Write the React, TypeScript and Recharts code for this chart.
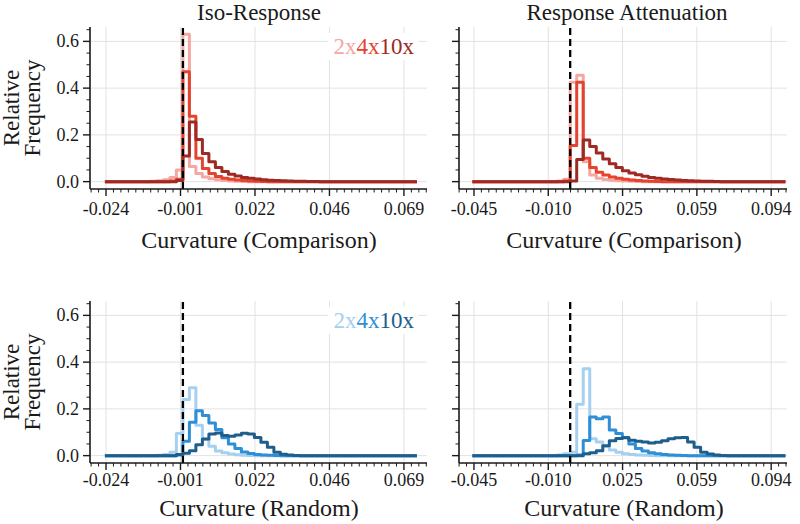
import { LineChart, Line, XAxis, YAxis, CartesianGrid, ReferenceLine } from "recharts";

const SERIF = "'Liberation Serif', 'Times New Roman', serif";

// scale factors shown in the legends
const SCALE_LABELS = ["2x", "4x", "10x"];

// histogram bins (48 bins per panel)
const ISO_BIN_START = -0.02435;
const ISO_BIN_WIDTH = 0.002029;
const ATT_BIN_START = -0.04575;
const ATT_BIN_WIDTH = 0.00305;

// Iso-Response, comparison curvature
const ISO_COMPARISON_2X = [
  0, 0, 0, 0, 0, 0, 0, 0.002, 0.004, 0.008, 0.018, 0.05,
  0.63, 0.065, 0.035, 0.02, 0.012, 0.008, 0.005, 0.003, 0.002, 0.001, 0, 0,
  0, 0, 0, 0, 0, 0, 0, 0, 0, 0, 0, 0,
  0, 0, 0, 0, 0, 0, 0, 0, 0, 0, 0, 0,
];
const ISO_COMPARISON_4X = [
  0, 0, 0, 0, 0, 0, 0, 0, 0, 0, 0.003, 0.01,
  0.47, 0.28, 0.1, 0.056, 0.035, 0.022, 0.015, 0.01, 0.007, 0.005, 0.003, 0.002,
  0.001, 0, 0, 0, 0, 0, 0, 0, 0, 0, 0, 0,
  0, 0, 0, 0, 0, 0, 0, 0, 0, 0, 0, 0,
];
const ISO_COMPARISON_10X = [
  0, 0, 0, 0, 0, 0, 0, 0, 0, 0, 0, 0.005,
  0.11, 0.255, 0.18, 0.12, 0.085, 0.06, 0.043, 0.032, 0.024, 0.018, 0.014, 0.011,
  0.008, 0.006, 0.005, 0.004, 0.003, 0.002, 0.002, 0.001, 0.001, 0, 0, 0,
  0, 0, 0, 0, 0, 0, 0, 0, 0, 0, 0, 0,
];

// Iso-Response, random curvature
const ISO_RANDOM_2X = [
  0, 0, 0, 0, 0, 0, 0, 0, 0.002, 0.005, 0.015, 0.095,
  0.24, 0.29, 0.13, 0.07, 0.04, 0.02, 0.012, 0.007, 0.004, 0.002, 0.001, 0,
  0, 0, 0, 0, 0, 0, 0, 0, 0, 0, 0, 0,
  0, 0, 0, 0, 0, 0, 0, 0, 0, 0, 0, 0,
];
const ISO_RANDOM_4X = [
  0, 0, 0, 0, 0, 0, 0, 0, 0, 0, 0, 0.003,
  0.062, 0.143, 0.192, 0.172, 0.14, 0.112, 0.076, 0.05, 0.03, 0.016, 0.009, 0.005,
  0.003, 0.002, 0.001, 0, 0, 0, 0, 0, 0, 0, 0, 0,
  0, 0, 0, 0, 0, 0, 0, 0, 0, 0, 0, 0,
];
const ISO_RANDOM_10X = [
  0, 0, 0, 0, 0, 0, 0, 0, 0, 0, 0, 0.005,
  0.01, 0.021, 0.047, 0.071, 0.093, 0.097, 0.086, 0.083, 0.088, 0.096, 0.093, 0.078,
  0.057, 0.036, 0.014, 0.006, 0.003, 0.001, 0, 0, 0, 0, 0, 0,
  0, 0, 0, 0, 0, 0, 0, 0, 0, 0, 0, 0,
];

// Response Attenuation, comparison curvature
const ATT_COMPARISON_2X = [
  0, 0, 0, 0, 0, 0, 0, 0, 0, 0, 0, 0,
  0, 0.003, 0.01, 0.425, 0.455, 0.085, 0.028, 0.015, 0.009, 0.006, 0.004, 0.003,
  0.002, 0.001, 0, 0, 0, 0, 0, 0, 0, 0, 0, 0,
  0, 0, 0, 0, 0, 0, 0, 0, 0, 0, 0, 0,
];
const ATT_COMPARISON_4X = [
  0, 0, 0, 0, 0, 0, 0, 0, 0, 0, 0, 0,
  0, 0, 0.003, 0.155, 0.425, 0.1, 0.06, 0.04, 0.028, 0.02, 0.014, 0.01,
  0.007, 0.005, 0.003, 0.002, 0.001, 0, 0, 0, 0, 0, 0, 0,
  0, 0, 0, 0, 0, 0, 0, 0, 0, 0, 0, 0,
];
const ATT_COMPARISON_10X = [
  0, 0, 0, 0, 0, 0, 0, 0, 0, 0, 0, 0,
  0, 0, 0, 0.003, 0.095, 0.178, 0.15, 0.122, 0.097, 0.076, 0.06, 0.047,
  0.037, 0.029, 0.023, 0.018, 0.014, 0.011, 0.009, 0.007, 0.005, 0.004, 0.003, 0.002,
  0.002, 0.001, 0, 0, 0, 0, 0, 0, 0, 0, 0, 0,
];

// Response Attenuation, random curvature
const ATT_RANDOM_2X = [
  0, 0, 0, 0, 0, 0, 0, 0, 0, 0, 0, 0,
  0, 0.003, 0.008, 0.015, 0.22, 0.372, 0.072, 0.058, 0.04, 0.024, 0.014, 0.008,
  0.005, 0.003, 0.002, 0.001, 0, 0, 0, 0, 0, 0, 0, 0,
  0, 0, 0, 0, 0, 0, 0, 0, 0, 0, 0, 0,
];
const ATT_RANDOM_4X = [
  0, 0, 0, 0, 0, 0, 0, 0, 0, 0, 0, 0,
  0, 0, 0, 0, 0.003, 0.065, 0.165, 0.158, 0.165, 0.11, 0.095, 0.078,
  0.05, 0.03, 0.02, 0.012, 0.008, 0.005, 0.003, 0.002, 0.001, 0, 0, 0,
  0, 0, 0, 0, 0, 0, 0, 0, 0, 0, 0, 0,
];
const ATT_RANDOM_10X = [
  0, 0, 0, 0, 0, 0, 0, 0, 0, 0, 0, 0,
  0, 0, 0, 0, 0, 0.008, 0.012, 0.021, 0.042, 0.064, 0.073, 0.077,
  0.066, 0.062, 0.058, 0.054, 0.057, 0.064, 0.072, 0.077, 0.078, 0.058, 0.036, 0.015,
  0.007, 0.003, 0.001, 0, 0, 0, 0, 0, 0, 0, 0, 0,
];

// axes
const ISO_X_TICKS = [-0.024, -0.00075, 0.0225, 0.04575, 0.069];
const ISO_X_LABELS = ["-0.024", "-0.001", "0.022", "0.046", "0.069"];
const ATT_X_TICKS = [-0.045, -0.01025, 0.0245, 0.05925, 0.094];
const ATT_X_LABELS = ["-0.045", "-0.010", "0.025", "0.059", "0.094"];
const Y_TICKS = [0, 0.2, 0.4, 0.6];
const Y_LABELS = ["0.0", "0.2", "0.4", "0.6"];
const Y_MINOR = [0.05, 0.1, 0.15, 0.25, 0.3, 0.35, 0.45, 0.5, 0.55, 0.65];

const ISO_X_DOMAIN: [number, number] = [-0.029, 0.0762];
const ATT_X_DOMAIN: [number, number] = [-0.052, 0.1014];
const Y_DOMAIN: [number, number] = [-0.0315, 0.6615];

const REDS = ["#f5a7a2", "#e6432f", "#9d2a23"];
const BLUES = ["#a5d0ef", "#2f8fd6", "#1e5e8c"];

const INK = "#1a1a1a";
const GRID = "#e2e2e2";

const Y_AXIS_W = 60;
const X_AXIS_H = 40;
const PAD_TOP = 10;
const PAD_RIGHT = 12;

function buildRows(start: number, width: number, a: number[], b: number[], c: number[]) {
  const rows = a.map((_, i) => ({ x: start + i * width, a: a[i], b: b[i], c: c[i] }));
  const n = a.length;
  rows.push({ x: start + n * width, a: a[n - 1], b: b[n - 1], c: c[n - 1] });
  return rows;
}

function minorTicks(majors: number[], sub: number, domain: [number, number]) {
  const step = (majors[1] - majors[0]) / sub;
  const out: number[] = [];
  for (let j = Math.ceil((domain[0] - majors[0]) / step); majors[0] + j * step <= domain[1]; j++) {
    if (j % sub !== 0) out.push(majors[0] + j * step);
  }
  return out;
}

function makeXTick(majors: number[], labels: string[], labelOffset: number) {
  return (props: any) => {
    const { x, y, payload } = props;
    const i = majors.indexOf(payload.value);
    if (i < 0) {
      return <line x1={x} x2={x} y1={y} y2={y + 3.5} stroke={INK} strokeWidth={1} />;
    }
    return (
      <g>
        <line x1={x} x2={x} y1={y} y2={y + 7} stroke={INK} strokeWidth={1.4} />
        <text x={x} y={y + labelOffset} textAnchor="middle" fontSize={18} fontFamily={SERIF} fill={INK}>
          {labels[i]}
        </text>
      </g>
    );
  };
}

function makeYTick(showLabels: boolean) {
  return (props: any) => {
    const { x, y, payload } = props;
    const i = Y_TICKS.indexOf(payload.value);
    if (i < 0) {
      return <line x1={x - 3.5} x2={x} y1={y} y2={y} stroke={INK} strokeWidth={1} />;
    }
    return (
      <g>
        <line x1={x - 7} x2={x} y1={y} y2={y} stroke={INK} strokeWidth={1.4} />
        {showLabels && (
          <text x={x - 11} y={y + 6} textAnchor="end" fontSize={18} fontFamily={SERIF} fill={INK}>
            {Y_LABELS[i]}
          </text>
        )}
      </g>
    );
  };
}

interface PanelProps {
  left: number;
  top: number;
  width: number;
  height: number;
  rows: { x: number; a: number; b: number; c: number }[];
  colors: string[];
  xDomain: [number, number];
  xTicks: number[];
  xLabels: string[];
  showYLabels: boolean;
  labelOffset: number;
}

function Panel({ left, top, width, height, rows, colors, xDomain, xTicks, xLabels, showYLabels, labelOffset }: PanelProps) {
  const allX = [...xTicks, ...minorTicks(xTicks, 10, xDomain)];
  const allY = [...Y_TICKS, ...Y_MINOR];
  return (
    <div style={{ position: "absolute", left: left - Y_AXIS_W, top: top - PAD_TOP }}>
      <LineChart
        width={width + Y_AXIS_W + PAD_RIGHT}
        height={height + PAD_TOP + X_AXIS_H}
        data={rows}
        margin={{ top: PAD_TOP, right: PAD_RIGHT, bottom: 0, left: 0 }}
      >
        <CartesianGrid stroke={GRID} strokeWidth={1} verticalValues={xTicks} horizontalValues={Y_TICKS} />
        <XAxis
          dataKey="x"
          type="number"
          domain={xDomain}
          allowDataOverflow
          ticks={allX}
          interval={0}
          tickLine={false}
          tickSize={0}
          tickMargin={0}
          height={X_AXIS_H}
          axisLine={{ stroke: INK, strokeWidth: 1.6 }}
          tick={makeXTick(xTicks, xLabels, labelOffset)}
        />
        <YAxis
          type="number"
          domain={Y_DOMAIN}
          allowDataOverflow
          ticks={allY}
          interval={0}
          tickLine={false}
          tickSize={0}
          tickMargin={0}
          width={Y_AXIS_W}
          axisLine={{ stroke: INK, strokeWidth: 1.6 }}
          tick={makeYTick(showYLabels)}
        />
        {["a", "b", "c"].map((key, i) => (
          <Line
            key={key}
            type="stepAfter"
            dataKey={key}
            stroke={colors[i]}
            strokeWidth={3}
            strokeLinejoin="round"
            dot={false}
            activeDot={false}
            isAnimationActive={false}
          />
        ))}
        <ReferenceLine x={0} stroke="#000" strokeWidth={2.3} strokeDasharray="7 4" />
      </LineChart>
    </div>
  );
}

function Legend({ x, y, colors }: { x: number; y: number; colors: string[] }) {
  return (
    <g>
      <rect x={x - 86} y={y - 21} width={90} height={27} fill="#fff" />
      <text x={x} y={y} textAnchor="end" fontSize={23} fontFamily={SERIF}>
        {SCALE_LABELS.map((s, i) => (
          <tspan key={s} fill={colors[i]}>
            {s}
          </tspan>
        ))}
      </text>
    </g>
  );
}

function YLabel({ cy }: { cy: number }) {
  return (
    <g fontSize={23} fontFamily={SERIF} fill={INK} textAnchor="middle">
      <text transform={`translate(19,${cy}) rotate(-90)`}>Relative</text>
      <text transform={`translate(40,${cy}) rotate(-90)`}>Frequency</text>
    </g>
  );
}

export default function App() {
  const isoComparison = buildRows(ISO_BIN_START, ISO_BIN_WIDTH, ISO_COMPARISON_2X, ISO_COMPARISON_4X, ISO_COMPARISON_10X);
  const attComparison = buildRows(ATT_BIN_START, ATT_BIN_WIDTH, ATT_COMPARISON_2X, ATT_COMPARISON_4X, ATT_COMPARISON_10X);
  const isoRandom = buildRows(ISO_BIN_START, ISO_BIN_WIDTH, ISO_RANDOM_2X, ISO_RANDOM_4X, ISO_RANDOM_10X);
  const attRandom = buildRows(ATT_BIN_START, ATT_BIN_WIDTH, ATT_RANDOM_2X, ATT_RANDOM_4X, ATT_RANDOM_10X);

  return (
    <div
      style={{
        position: "absolute",
        left: 0,
        top: 0,
        width: 800,
        height: 524,
        background: "#fff",
        overflow: "hidden",
        fontFamily: SERIF,
      }}
    >
      <Panel left={90} top={27} width={337} height={162} rows={isoComparison} colors={REDS}
        xDomain={ISO_X_DOMAIN} xTicks={ISO_X_TICKS} xLabels={ISO_X_LABELS} showYLabels labelOffset={26} />
      <Panel left={459} top={27} width={328} height={162} rows={attComparison} colors={REDS}
        xDomain={ATT_X_DOMAIN} xTicks={ATT_X_TICKS} xLabels={ATT_X_LABELS} showYLabels={false} labelOffset={26} />
      <Panel left={90} top={301} width={337} height={162} rows={isoRandom} colors={BLUES}
        xDomain={ISO_X_DOMAIN} xTicks={ISO_X_TICKS} xLabels={ISO_X_LABELS} showYLabels labelOffset={23} />
      <Panel left={459} top={301} width={328} height={162} rows={attRandom} colors={BLUES}
        xDomain={ATT_X_DOMAIN} xTicks={ATT_X_TICKS} xLabels={ATT_X_LABELS} showYLabels={false} labelOffset={23} />

      <svg width={800} height={524} style={{ position: "absolute", left: 0, top: 0, pointerEvents: "none" }}>
        <g fontFamily={SERIF} fill={INK} textAnchor="middle">
          <text x={259} y={20} fontSize={23}>Iso-Response</text>
          <text x={627} y={20} fontSize={23}>Response Attenuation</text>
          <text x={259} y={248} fontSize={24}>Curvature (Comparison)</text>
          <text x={624} y={248} fontSize={24}>Curvature (Comparison)</text>
          <text x={259} y={516} fontSize={24}>Curvature (Random)</text>
          <text x={624} y={516} fontSize={24}>Curvature (Random)</text>
        </g>
        <YLabel cy={108} />
        <YLabel cy={382} />
        <Legend x={414} y={54} colors={REDS} />
        <Legend x={414} y={328} colors={BLUES} />
      </svg>
    </div>
  );
}
